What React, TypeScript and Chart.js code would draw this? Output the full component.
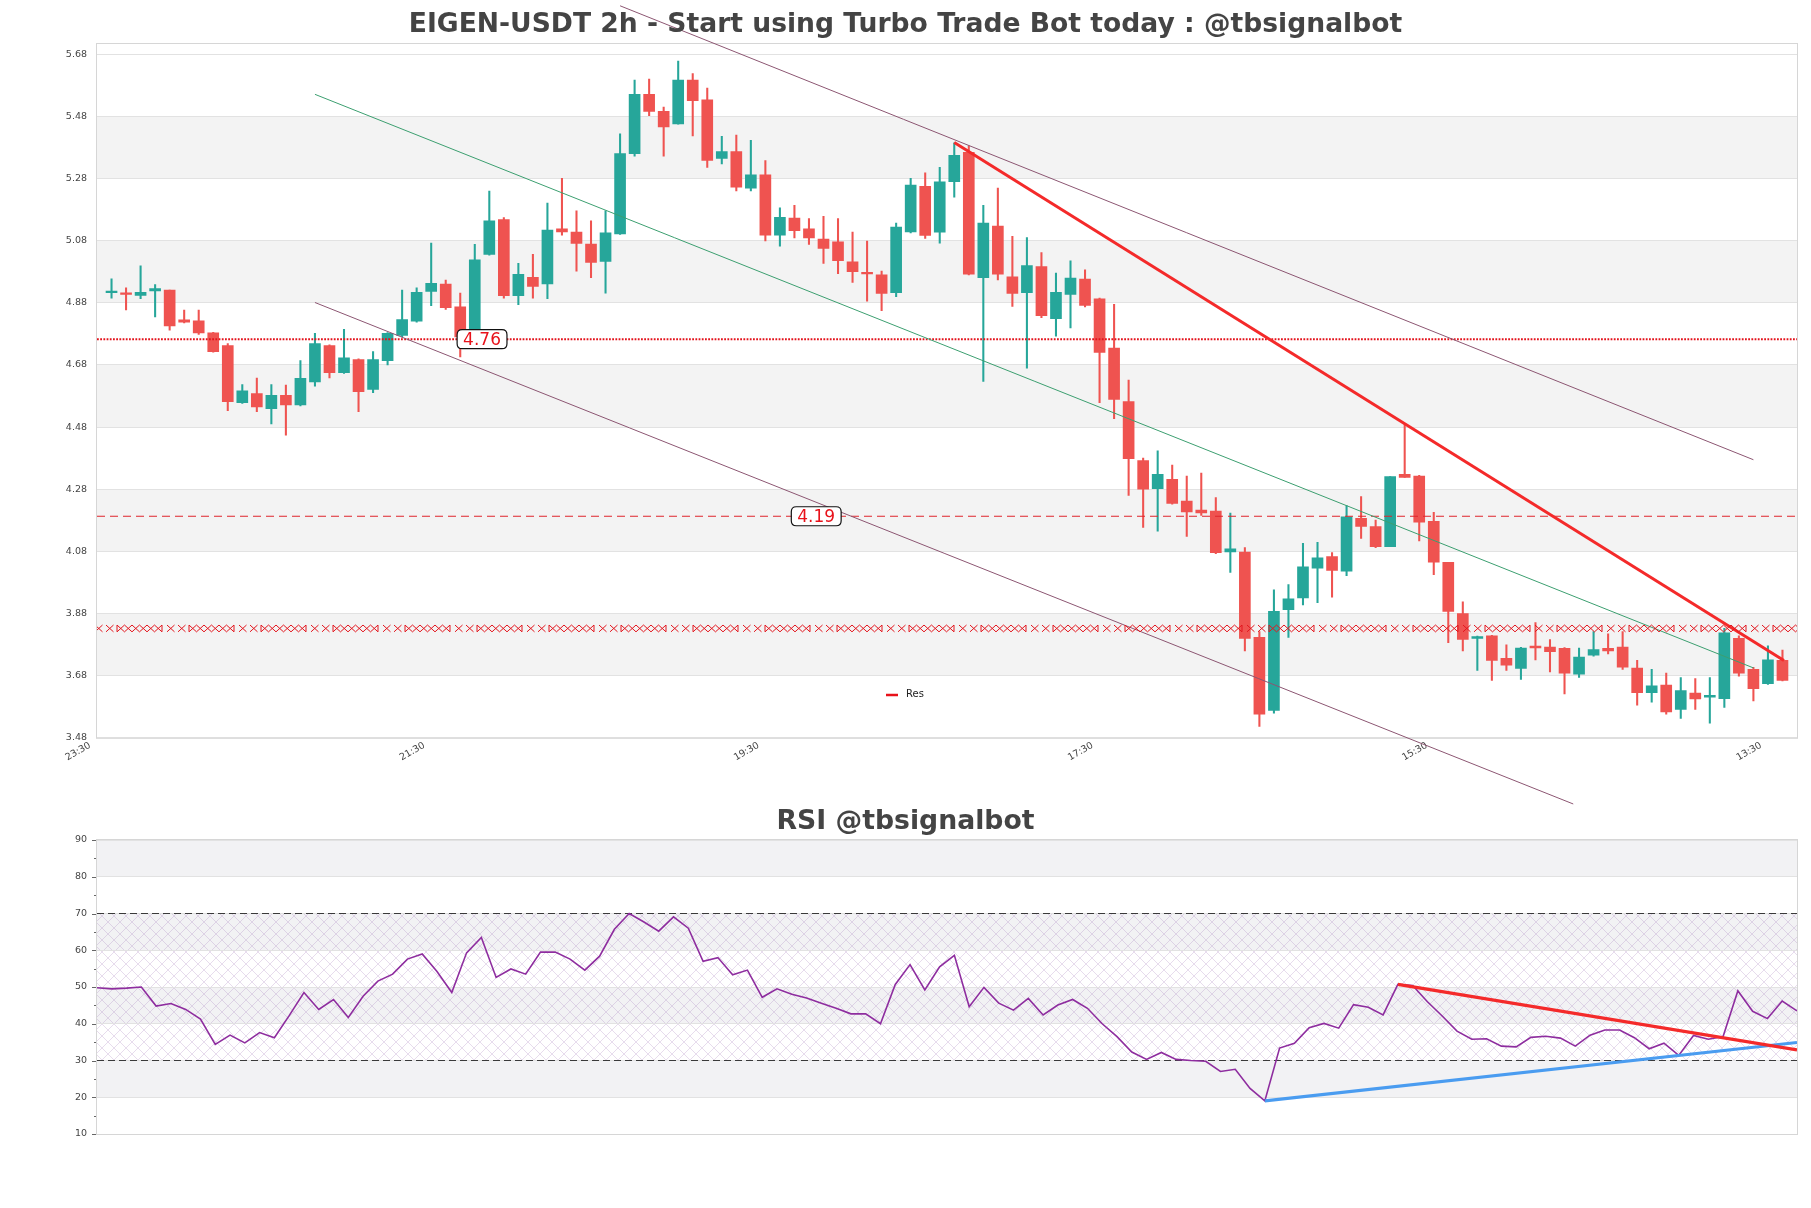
import React, { useEffect, useRef } from 'react';
import { Chart, registerables } from 'chart.js';

Chart.register(...registerables);

const FONT = "'DejaVu Sans', 'Liberation Sans', sans-serif";

const chartTitle = 'EIGEN-USDT 2h - Start using Turbo Trade Bot today : @tbsignalbot';
const rsiTitle = 'RSI @tbsignalbot';

const opens = [
  4.913, 4.911, 4.904, 4.918, 4.921, 4.825, 4.822, 4.783, 4.742, 4.559,
  4.588, 4.539, 4.582, 4.551, 4.625, 4.742, 4.655, 4.697, 4.601, 4.694,
  4.775, 4.821, 4.917, 4.940, 4.867, 4.770, 5.036, 5.148, 4.903, 4.962,
  4.941, 5.118, 5.108, 5.069, 5.013, 5.102, 5.360, 5.551, 5.496, 5.456,
  5.597, 5.533, 5.345, 5.367, 5.249, 5.292, 5.098, 5.153, 5.118, 5.085,
  5.076, 5.012, 4.976, 4.970, 4.913, 5.108, 5.255, 5.107, 5.270, 5.364,
  4.961, 5.127, 4.964, 4.913, 4.997, 4.829, 4.907, 4.956, 4.893, 4.734,
  4.562, 4.372, 4.282, 4.312, 4.242, 4.213, 4.210, 4.078, 4.078, 3.803,
  3.568, 3.892, 3.930, 4.026, 4.063, 4.016, 4.186, 4.160, 4.095, 4.328,
  4.322, 4.177, 4.045, 3.880, 3.800, 3.808, 3.736, 3.703, 3.775, 3.772,
  3.768, 3.685, 3.746, 3.768, 3.772, 3.704, 3.625, 3.650, 3.571, 3.624,
  3.611, 3.606, 3.800, 3.700, 3.654, 3.729,
];
const highs = [
  4.957, 4.928, 4.999, 4.939, 4.921, 4.857, 4.857, 4.785, 4.749, 4.617,
  4.638, 4.617, 4.615, 4.694, 4.782, 4.745, 4.795, 4.700, 4.723, 4.784,
  4.921, 4.928, 5.072, 4.953, 4.911, 5.068, 5.240, 5.154, 5.007, 5.036,
  5.201, 5.281, 5.176, 5.144, 5.176, 5.424, 5.597, 5.600, 5.510, 5.658,
  5.618, 5.571, 5.416, 5.420, 5.403, 5.338, 5.186, 5.194, 5.151, 5.158,
  5.151, 5.108, 5.079, 4.982, 5.137, 5.281, 5.298, 5.316, 5.395, 5.385,
  5.194, 5.249, 5.094, 5.090, 5.042, 4.976, 5.015, 4.986, 4.895, 4.875,
  4.631, 4.380, 4.404, 4.358, 4.322, 4.332, 4.253, 4.203, 4.092, 3.822,
  3.956, 3.973, 4.106, 4.109, 4.076, 4.227, 4.256, 4.181, 4.321, 4.487,
  4.325, 4.206, 4.045, 3.918, 3.807, 3.810, 3.779, 3.771, 3.851, 3.796,
  3.770, 3.769, 3.822, 3.815, 3.822, 3.729, 3.700, 3.688, 3.674, 3.671,
  3.674, 3.832, 3.808, 3.707, 3.776, 3.762,
];
const lows = [
  4.895, 4.857, 4.893, 4.835, 4.792, 4.815, 4.778, 4.721, 4.533, 4.556,
  4.530, 4.490, 4.454, 4.548, 4.612, 4.638, 4.653, 4.530, 4.591, 4.680,
  4.770, 4.818, 4.871, 4.859, 4.706, 4.768, 5.033, 4.895, 4.874, 4.895,
  4.893, 5.098, 4.982, 4.961, 4.911, 5.100, 5.352, 5.482, 5.352, 5.455,
  5.417, 5.316, 5.327, 5.240, 5.240, 5.079, 5.062, 5.089, 5.068, 5.007,
  4.974, 4.946, 4.885, 4.855, 4.900, 5.105, 5.087, 5.072, 5.220, 4.970,
  4.627, 4.954, 4.868, 4.670, 4.832, 4.773, 4.799, 4.867, 4.559, 4.507,
  4.260, 4.157, 4.145, 4.232, 4.128, 4.196, 4.073, 4.012, 3.760, 3.517,
  3.559, 3.803, 3.908, 3.915, 3.933, 4.002, 4.122, 4.092, 4.095, 4.318,
  4.114, 4.005, 3.786, 3.760, 3.697, 3.665, 3.697, 3.668, 3.731, 3.692,
  3.621, 3.674, 3.743, 3.750, 3.700, 3.585, 3.595, 3.556, 3.542, 3.571,
  3.527, 3.578, 3.678, 3.599, 3.652, 3.663,
];
const closes = [
  4.917, 4.907, 4.914, 4.926, 4.806, 4.818, 4.783, 4.723, 4.562, 4.597,
  4.545, 4.582, 4.551, 4.637, 4.749, 4.655, 4.703, 4.594, 4.697, 4.782,
  4.826, 4.914, 4.943, 4.864, 4.770, 5.018, 5.144, 4.903, 4.972, 4.933,
  5.114, 5.108, 5.071, 5.010, 5.105, 5.360, 5.551, 5.496, 5.446, 5.597,
  5.531, 5.338, 5.367, 5.252, 5.292, 5.098, 5.155, 5.112, 5.089, 5.055,
  5.016, 4.980, 4.973, 4.910, 5.124, 5.259, 5.097, 5.269, 5.355, 4.972,
  5.137, 4.972, 4.910, 5.000, 4.839, 4.914, 4.960, 4.872, 4.720, 4.569,
  4.378, 4.280, 4.328, 4.234, 4.207, 4.204, 4.076, 4.088, 3.800, 3.556,
  3.887, 3.927, 4.030, 4.059, 4.019, 4.191, 4.160, 4.095, 4.321, 4.318,
  4.174, 4.045, 3.887, 3.797, 3.806, 3.729, 3.714, 3.769, 3.769, 3.757,
  3.688, 3.740, 3.764, 3.760, 3.707, 3.625, 3.647, 3.563, 3.632, 3.605,
  3.617, 3.818, 3.688, 3.638, 3.731, 3.665,
];

const rsiValues = [
  49.8, 49.5, 49.7, 50.0, 44.8, 45.5, 43.9, 41.3, 34.4, 36.9,
  34.8, 37.6, 36.2, 42.2, 48.5, 43.9, 46.6, 41.7, 47.5, 51.6,
  53.5, 57.6, 59.0, 54.2, 48.5, 59.3, 63.5, 52.6, 54.9, 53.5,
  59.5, 59.5, 57.6, 54.6, 58.4, 65.7, 70.0, 67.7, 65.2, 69.1,
  66.0, 57.0, 58.0, 53.3, 54.6, 47.2, 49.5, 48.0, 47.0, 45.6,
  44.2, 42.7, 42.7, 40.0, 50.7, 56.1, 49.2, 55.5, 58.6, 44.6,
  49.9, 45.6, 43.7, 46.9, 42.4, 45.1, 46.6, 44.2, 40.0, 36.5,
  32.3, 30.3, 32.2, 30.3, 30.0, 29.8, 27.0, 27.6, 22.4, 19.0,
  33.4, 34.7, 38.9, 40.1, 38.8, 45.2, 44.5, 42.4, 50.7, 50.4,
  46.0, 42.1, 38.0, 35.8, 35.9, 33.9, 33.7, 36.3, 36.6, 36.1,
  33.9, 36.9, 38.3, 38.3, 36.2, 33.2, 34.7, 31.4, 36.8, 35.8,
  36.5, 49.0, 43.4, 41.4, 46.2, 43.5,
];

const timeTickIndex = [-1, 22, 45, 68, 91, 114];
const timeTickLabels = ['23:30', '21:30', '19:30', '17:30', '15:30', '13:30'];
const priceTicks = [3.48, 3.68, 3.88, 4.08, 4.28, 4.48, 4.68, 4.88, 5.08, 5.28, 5.48, 5.68];
const priceBands = [[5.28, 5.48], [4.88, 5.08], [4.48, 4.68], [4.08, 4.28], [3.68, 3.88]];
const rsiTicks = [10, 20, 30, 40, 50, 60, 70, 80, 90];
const rsiBands = [[80, 90], [60, 70], [40, 50], [20, 30]];
const rsiZone = [30, 70];

const dottedLevel = 4.763;
const dottedLabel = '4.76';
const dottedLabelIdx = 25.5;
const dashedLevel = 4.193;
const dashedLabel = '4.19';
const dashedLabelIdx = 48.5;
const hatchLevel = 3.832;

const upperChannel = [{ x: 35, y: 5.836 }, { x: 113, y: 4.375 }];
const lowerChannel = [{ x: 14, y: 4.881 }, { x: 100.6, y: 3.267 }];
const midChannel = [{ x: 14, y: 5.551 }, { x: 113, y: 3.705 }];
const resLine = [{ x: 58, y: 5.396 }, { x: 115.1, y: 3.729 }];
const rsiResLine = [{ x: 88, y: 50.7 }, { x: 115, y: 32.9 }];
const rsiSupLine = [{ x: 79, y: 19.0 }, { x: 115, y: 34.9 }];

const X_MIN = -1;
const X_MAX = 116;
const UP = '#26a69a';
const DOWN = '#ef5350';

function drawChain(ctx: CanvasRenderingContext2D, a: number, cells: number, cell: number, y: number, h: number) {
  for (const s of [1, -1]) {
    ctx.beginPath();
    ctx.moveTo(a, y - s * h);
    for (let k = 1; k <= cells; k++) {
      ctx.lineTo(a + k * cell, y + (k % 2 === 1 ? s * h : -s * h));
    }
    ctx.stroke();
  }
}

function drawHatchLine(ctx: CanvasRenderingContext2D, left: number, right: number, y: number) {
  ctx.save();
  ctx.beginPath();
  ctx.rect(left, y - 8, right - left, 16);
  ctx.clip();
  ctx.strokeStyle = '#e3161e';
  ctx.lineWidth = 1;
  const h = 3.4;
  const cell = 7.5;
  const period = 72;
  for (let x0 = left - 2; x0 < right; x0 += period) {
    drawChain(ctx, x0, 1, cell, y, h);
    drawChain(ctx, x0 + 11, 1, cell, y, h);
    drawChain(ctx, x0 + 22, 6, cell, y, h);
    // small end bars
    ctx.beginPath();
    ctx.moveTo(x0 + 22, y - h);
    ctx.lineTo(x0 + 22, y + h);
    ctx.moveTo(x0 + 22 + 6 * cell, y - h);
    ctx.lineTo(x0 + 22 + 6 * cell, y + h);
    ctx.stroke();
  }
  ctx.restore();
}

function drawBoxLabel(ctx: CanvasRenderingContext2D, text: string, cx: number, cy: number) {
  ctx.save();
  ctx.font = `17px ${FONT}`;
  const tw = ctx.measureText(text).width;
  const w = tw + 12;
  const h = 19;
  const x = cx - w / 2;
  const y = cy - h / 2;
  const r = 5;
  ctx.beginPath();
  ctx.moveTo(x + r, y);
  ctx.lineTo(x + w - r, y);
  ctx.quadraticCurveTo(x + w, y, x + w, y + r);
  ctx.lineTo(x + w, y + h - r);
  ctx.quadraticCurveTo(x + w, y + h, x + w - r, y + h);
  ctx.lineTo(x + r, y + h);
  ctx.quadraticCurveTo(x, y + h, x, y + h - r);
  ctx.lineTo(x, y + r);
  ctx.quadraticCurveTo(x, y, x + r, y);
  ctx.closePath();
  ctx.fillStyle = '#ffffff';
  ctx.fill();
  ctx.lineWidth = 1.2;
  ctx.strokeStyle = '#111';
  ctx.stroke();
  ctx.fillStyle = '#e8121a';
  ctx.textAlign = 'center';
  ctx.textBaseline = 'middle';
  ctx.fillText(text, cx, cy + 1);
  ctx.restore();
}

function makeMainConfig(): any {
  const idx = closes.map((_, i) => i);
  const colors = idx.map((i) => (closes[i] >= opens[i] ? UP : DOWN));
  const mainPlugin = {
    id: 'mainDeco',
    beforeDraw(chart: any) {
      const { ctx, chartArea } = chart;
      const y = chart.scales.y;
      ctx.save();
      ctx.fillStyle = '#f3f3f3';
      for (const [a, b] of priceBands) {
        const top = y.getPixelForValue(b);
        const bot = y.getPixelForValue(a);
        ctx.fillRect(chartArea.left, top, chartArea.right - chartArea.left, bot - top);
      }
      ctx.restore();
    },
    beforeDatasetsDraw(chart: any) {
      const { ctx, chartArea } = chart;
      ctx.save();
      ctx.strokeStyle = '#d6d6d6';
      ctx.lineWidth = 1;
      ctx.strokeRect(chartArea.left - 0.5, chartArea.top - 0.5, chartArea.right - chartArea.left + 1, chartArea.bottom - chartArea.top + 1);
      ctx.restore();
    },
    afterDatasetsDraw(chart: any) {
      const { ctx, chartArea } = chart;
      const x = chart.scales.x;
      const y = chart.scales.y;
      drawHatchLine(ctx, chartArea.left, chartArea.right, y.getPixelForValue(hatchLevel));
      drawBoxLabel(ctx, dottedLabel, x.getPixelForValue(dottedLabelIdx), y.getPixelForValue(dottedLevel));
      drawBoxLabel(ctx, dashedLabel, x.getPixelForValue(dashedLabelIdx), y.getPixelForValue(dashedLevel));
      // legend
      ctx.save();
      ctx.strokeStyle = '#e8121a';
      ctx.lineWidth = 2.5;
      ctx.beginPath();
      ctx.moveTo(886, 695);
      ctx.lineTo(898, 695);
      ctx.stroke();
      ctx.fillStyle = '#222';
      ctx.font = `10px ${FONT}`;
      ctx.textAlign = 'left';
      ctx.textBaseline = 'middle';
      ctx.fillText('Res', 906, 694);
      ctx.restore();
    },
    afterDraw(chart: any) {
      const { ctx } = chart;
      ctx.save();
      ctx.font = `bold 26.6px ${FONT}`;
      ctx.fillStyle = '#444444';
      ctx.textAlign = 'center';
      ctx.textBaseline = 'middle';
      ctx.fillText(chartTitle, 905.5, 25);
      ctx.restore();
    },
  };

  const hLine = (v: number) => [{ x: X_MIN, y: v }, { x: X_MAX, y: v }];

  return {
    type: 'bar',
    data: {
      datasets: [
        { type: 'line', label: 'Res', data: resLine, borderColor: '#f42a2a', borderWidth: 3, pointRadius: 0, clip: false, order: 0 },
        { type: 'line', label: 'upper', data: upperChannel, borderColor: '#8c5672', borderWidth: 1, pointRadius: 0, clip: false, order: 3 },
        { type: 'line', label: 'lower', data: lowerChannel, borderColor: '#8c5672', borderWidth: 1, pointRadius: 0, clip: false, order: 3 },
        { type: 'line', label: 'mid', data: midChannel, borderColor: '#3c9f70', borderWidth: 1, pointRadius: 0, clip: false, order: 3 },
        { type: 'line', label: 'dotted', data: hLine(dottedLevel), borderColor: '#e3121b', borderWidth: 2, borderDash: [1.8, 1.4], pointRadius: 0, order: 4 },
        { type: 'line', label: 'dashed', data: hLine(dashedLevel), borderColor: '#e0262c', borderWidth: 1.2, borderDash: [8, 5], pointRadius: 0, order: 4 },
        {
          type: 'bar', label: 'body',
          data: idx.map((i) => ({ x: i, y: [opens[i], closes[i]] })),
          backgroundColor: colors, borderWidth: 0, barThickness: 11, minBarLength: 1.5, grouped: false, order: 5,
        },
        {
          type: 'bar', label: 'wick',
          data: idx.map((i) => ({ x: i, y: [lows[i], highs[i]] })),
          backgroundColor: colors, borderWidth: 0, barThickness: 1.4, grouped: false, order: 6,
        },
      ],
    },
    options: {
      responsive: false,
      animation: false,
      events: [],
      devicePixelRatio: 1,
      layout: { padding: { top: 44, right: 14, left: 0, bottom: 0 } },
      plugins: { legend: { display: false }, title: { display: false }, tooltip: { enabled: false } },
      scales: {
        x: {
          type: 'linear', min: X_MIN, max: X_MAX, offset: false,
          grid: { display: false, drawTicks: false, offset: false },
          border: { display: false },
          afterBuildTicks: (s: any) => { s.ticks = timeTickIndex.map((v) => ({ value: v })); },
          afterFit: (s: any) => { s.height = 92.2; },
          ticks: {
            autoSkip: false, maxRotation: 30, minRotation: 30, padding: 2, labelOffset: -7, color: '#444',
            font: { family: FONT, size: 9.5 },
            callback: (v: any) => { const j = timeTickIndex.indexOf(Number(v)); return j >= 0 ? timeTickLabels[j] : ''; },
          },
        },
        y: {
          type: 'linear', min: 3.48, max: 5.713,
          afterBuildTicks: (s: any) => { s.ticks = priceTicks.map((v) => ({ value: v })); },
          afterFit: (s: any) => { s.width = 97; },
          grid: { color: '#e2e2e2', lineWidth: 1, drawTicks: false },
          border: { display: false },
          ticks: { padding: 10, color: '#444', font: { family: FONT, size: 9.5 }, callback: (v: any) => Number(v).toFixed(2) },
        },
      },
    },
    plugins: [mainPlugin],
  };
}

function makeRsiConfig(): any {
  const tile = document.createElement('canvas');
  tile.width = 12;
  tile.height = 12;
  const t = tile.getContext('2d')!;
  t.strokeStyle = 'rgba(165,125,190,0.34)';
  t.lineWidth = 0.8;
  t.beginPath();
  t.moveTo(0, 0); t.lineTo(12, 12);
  t.moveTo(12, 0); t.lineTo(0, 12);
  t.stroke();

  const rsiPlugin = {
    id: 'rsiDeco',
    beforeDraw(chart: any) {
      const { ctx, chartArea } = chart;
      const y = chart.scales.y;
      const w = chartArea.right - chartArea.left;
      ctx.save();
      ctx.fillStyle = '#f2f2f4';
      for (const [a, b] of rsiBands) {
        const top = y.getPixelForValue(b);
        const bot = y.getPixelForValue(a);
        ctx.fillRect(chartArea.left, top, w, bot - top);
      }
      const pat = ctx.createPattern(tile, 'repeat');
      if (pat) {
        ctx.fillStyle = pat;
        const top = y.getPixelForValue(rsiZone[1]);
        const bot = y.getPixelForValue(rsiZone[0]);
        ctx.fillRect(chartArea.left, top, w, bot - top);
      }
      ctx.restore();
    },
    beforeDatasetsDraw(chart: any) {
      const { ctx, chartArea } = chart;
      const y = chart.scales.y;
      ctx.save();
      ctx.strokeStyle = '#d6d6d6';
      ctx.lineWidth = 1;
      ctx.strokeRect(chartArea.left - 0.5, chartArea.top - 0.5, chartArea.right - chartArea.left + 1, chartArea.bottom - chartArea.top + 1);
      ctx.strokeStyle = '#666';
      for (let v = 10; v <= 90; v += 5) {
        const py = Math.round(y.getPixelForValue(v)) + 0.5;
        const len = v % 10 === 0 ? 4 : 2;
        ctx.beginPath();
        ctx.moveTo(chartArea.left - len - 1, py);
        ctx.lineTo(chartArea.left - 1, py);
        ctx.stroke();
      }
      ctx.restore();
    },
    afterDraw(chart: any) {
      const { ctx } = chart;
      ctx.save();
      ctx.font = `bold 26.7px ${FONT}`;
      ctx.fillStyle = '#444444';
      ctx.textAlign = 'center';
      ctx.textBaseline = 'middle';
      ctx.fillText(rsiTitle, 905.5, 32.5);
      ctx.restore();
    },
  };

  const last = rsiValues.length - 1;
  const hLine = (v: number) => [{ x: 0, y: v }, { x: last, y: v }];

  return {
    type: 'line',
    data: {
      datasets: [
        { label: 'res', data: rsiResLine, borderColor: '#f42a2a', borderWidth: 3.2, pointRadius: 0, order: 0 },
        { label: 'sup', data: rsiSupLine, borderColor: '#4a9cf0', borderWidth: 3.2, pointRadius: 0, order: 0 },
        { label: 'RSI', data: rsiValues.map((v, i) => ({ x: i, y: v })), borderColor: '#8e2d9f', borderWidth: 1.6, pointRadius: 0, order: 1 },
        { label: 'ob', data: hLine(70), borderColor: '#3a3a3a', borderWidth: 1.2, borderDash: [7, 4], pointRadius: 0, order: 2 },
        { label: 'os', data: hLine(30), borderColor: '#3a3a3a', borderWidth: 1.2, borderDash: [7, 4], pointRadius: 0, order: 2 },
      ],
    },
    options: {
      responsive: false,
      animation: false,
      events: [],
      devicePixelRatio: 1,
      layout: { padding: { top: 50, right: 14, left: 0, bottom: 74 } },
      plugins: { legend: { display: false }, title: { display: false }, tooltip: { enabled: false } },
      scales: {
        x: { type: 'linear', min: 0, max: last, display: false },
        y: {
          type: 'linear', min: 10, max: 90,
          afterBuildTicks: (s: any) => { s.ticks = rsiTicks.map((v) => ({ value: v })); },
          afterFit: (s: any) => { s.width = 97; },
          grid: { color: '#e2e2e2', lineWidth: 1, drawTicks: false },
          border: { display: false },
          ticks: { padding: 10, color: '#444', font: { family: FONT, size: 9.5 } },
        },
      },
    },
    plugins: [rsiPlugin],
  };
}

export default function App() {
  const mainRef = useRef<HTMLCanvasElement>(null);
  const rsiRef = useRef<HTMLCanvasElement>(null);

  useEffect(() => {
    const main = new Chart(mainRef.current as HTMLCanvasElement, makeMainConfig());
    const rsi = new Chart(rsiRef.current as HTMLCanvasElement, makeRsiConfig());
    return () => {
      main.destroy();
      rsi.destroy();
    };
  }, []);

  return (
    <div style={{ position: 'absolute', left: 0, top: 0, width: 1811, height: 1208, background: '#ffffff', overflow: 'hidden' }}>
      <canvas ref={mainRef} width={1811} height={830} style={{ position: 'absolute', left: 0, top: 0 }} />
      <canvas ref={rsiRef} width={1811} height={418} style={{ position: 'absolute', left: 0, top: 790 }} />
    </div>
  );
}
